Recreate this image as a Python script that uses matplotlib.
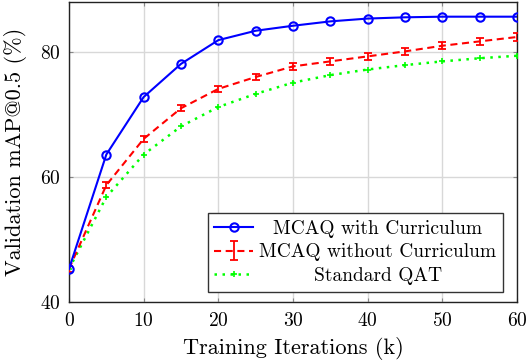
import matplotlib
matplotlib.use("Agg")
import matplotlib.pyplot as plt
import matplotlib.transforms as mtransforms

plt.rcParams['font.family'] = ['cmr10', 'DejaVu Serif']
plt.rcParams['mathtext.fontset'] = 'cm'
plt.rcParams['axes.formatter.use_mathtext'] = True

iters = [0, 5, 10, 15, 20, 25, 30, 35, 40, 45, 50, 55, 60]
with_curr = [45.3, 63.6, 72.8, 78.1, 81.9, 83.4, 84.2, 84.9, 85.35, 85.55, 85.65, 85.65, 85.65]
without_curr = [45.3, 58.7, 66.1, 71.0, 74.1, 76.0, 77.7, 78.5, 79.3, 80.1, 81.0, 81.7, 82.4]
without_err = [0.5, 0.5, 0.5, 0.5, 0.5, 0.5, 0.6, 0.6, 0.6, 0.6, 0.6, 0.6, 0.6]
standard = [45.3, 56.8, 63.6, 68.1, 71.2, 73.3, 75.1, 76.3, 77.2, 77.9, 78.5, 79.0, 79.4]

labels = ['MCAQ with Curriculum', 'MCAQ without Curriculum', 'Standard QAT']
xticks = [0, 10, 20, 30, 40, 50, 60]
yticks = [40, 60, 80]

fig = plt.figure(figsize=(5.28, 3.62), dpi=100)
ax = fig.add_axes([69/528, 1-302/362, (517-69)/528, 300/362])

fs = 14
h1, = ax.plot(iters, with_curr, color=(0, 0, 1), lw=1.5, marker='o', ms=6,
              mfc='none', mew=1.5, label=labels[0], zorder=5)
h2 = ax.errorbar(iters, without_curr, yerr=without_err, color=(1, 0, 0), lw=1.5,
                 ls=(0, (3.4, 2.2)), capsize=3, elinewidth=1.3, capthick=1.3,
                 label=labels[1], zorder=4)
h3, = ax.plot(iters, standard, color=(0, 1, 0), lw=1.8, ls=(0, (1, 2.2)),
              marker='+', ms=5, mew=1.2, label=labels[2], zorder=3)

ax.set_xlim(0, 60)
ax.set_ylim(40, 88)
ax.set_xticks(xticks)
ax.set_yticks(yticks)
ax.grid(True, color='#d8d8d8', lw=1.0)
ax.set_axisbelow(True)
ax.tick_params(direction='in', length=3, color='#888888', labelsize=fs,
               top=True, right=True)
ax.tick_params(axis='x', pad=7)
ax.tick_params(axis='y', pad=6)
for s in ax.spines.values():
    s.set_color('#222222')
    s.set_linewidth(1.0)

ax.set_xlabel('Training Iterations (k)', fontsize=16, labelpad=5)
ax.set_ylabel('Validation mAP@0.5 (%)', fontsize=16, labelpad=9)

leg = ax.legend(handles=[h1, h2, h3], labels=labels,
                loc='lower right', bbox_to_anchor=((503-69)/448, (302-292)/300),
                fontsize=fs, frameon=True, fancybox=False, edgecolor='#333333',
                framealpha=1, handlelength=2.0, handletextpad=0.3,
                labelspacing=0.3, borderpad=0.35, borderaxespad=0)
leg.get_frame().set_linewidth(1.0)

# center legend texts like pgfplots
fig.canvas.draw()
r = fig.canvas.get_renderer()
texts = leg.get_texts()
widths = [t.get_window_extent(r).width for t in texts]
mw = max(widths)
for t, w in zip(texts, widths):
    tr = t.get_transform()
    t.set_transform(mtransforms.Affine2D().translate((mw - w) / 2, 0) + tr)

fig.savefig('out.png', dpi=100)
